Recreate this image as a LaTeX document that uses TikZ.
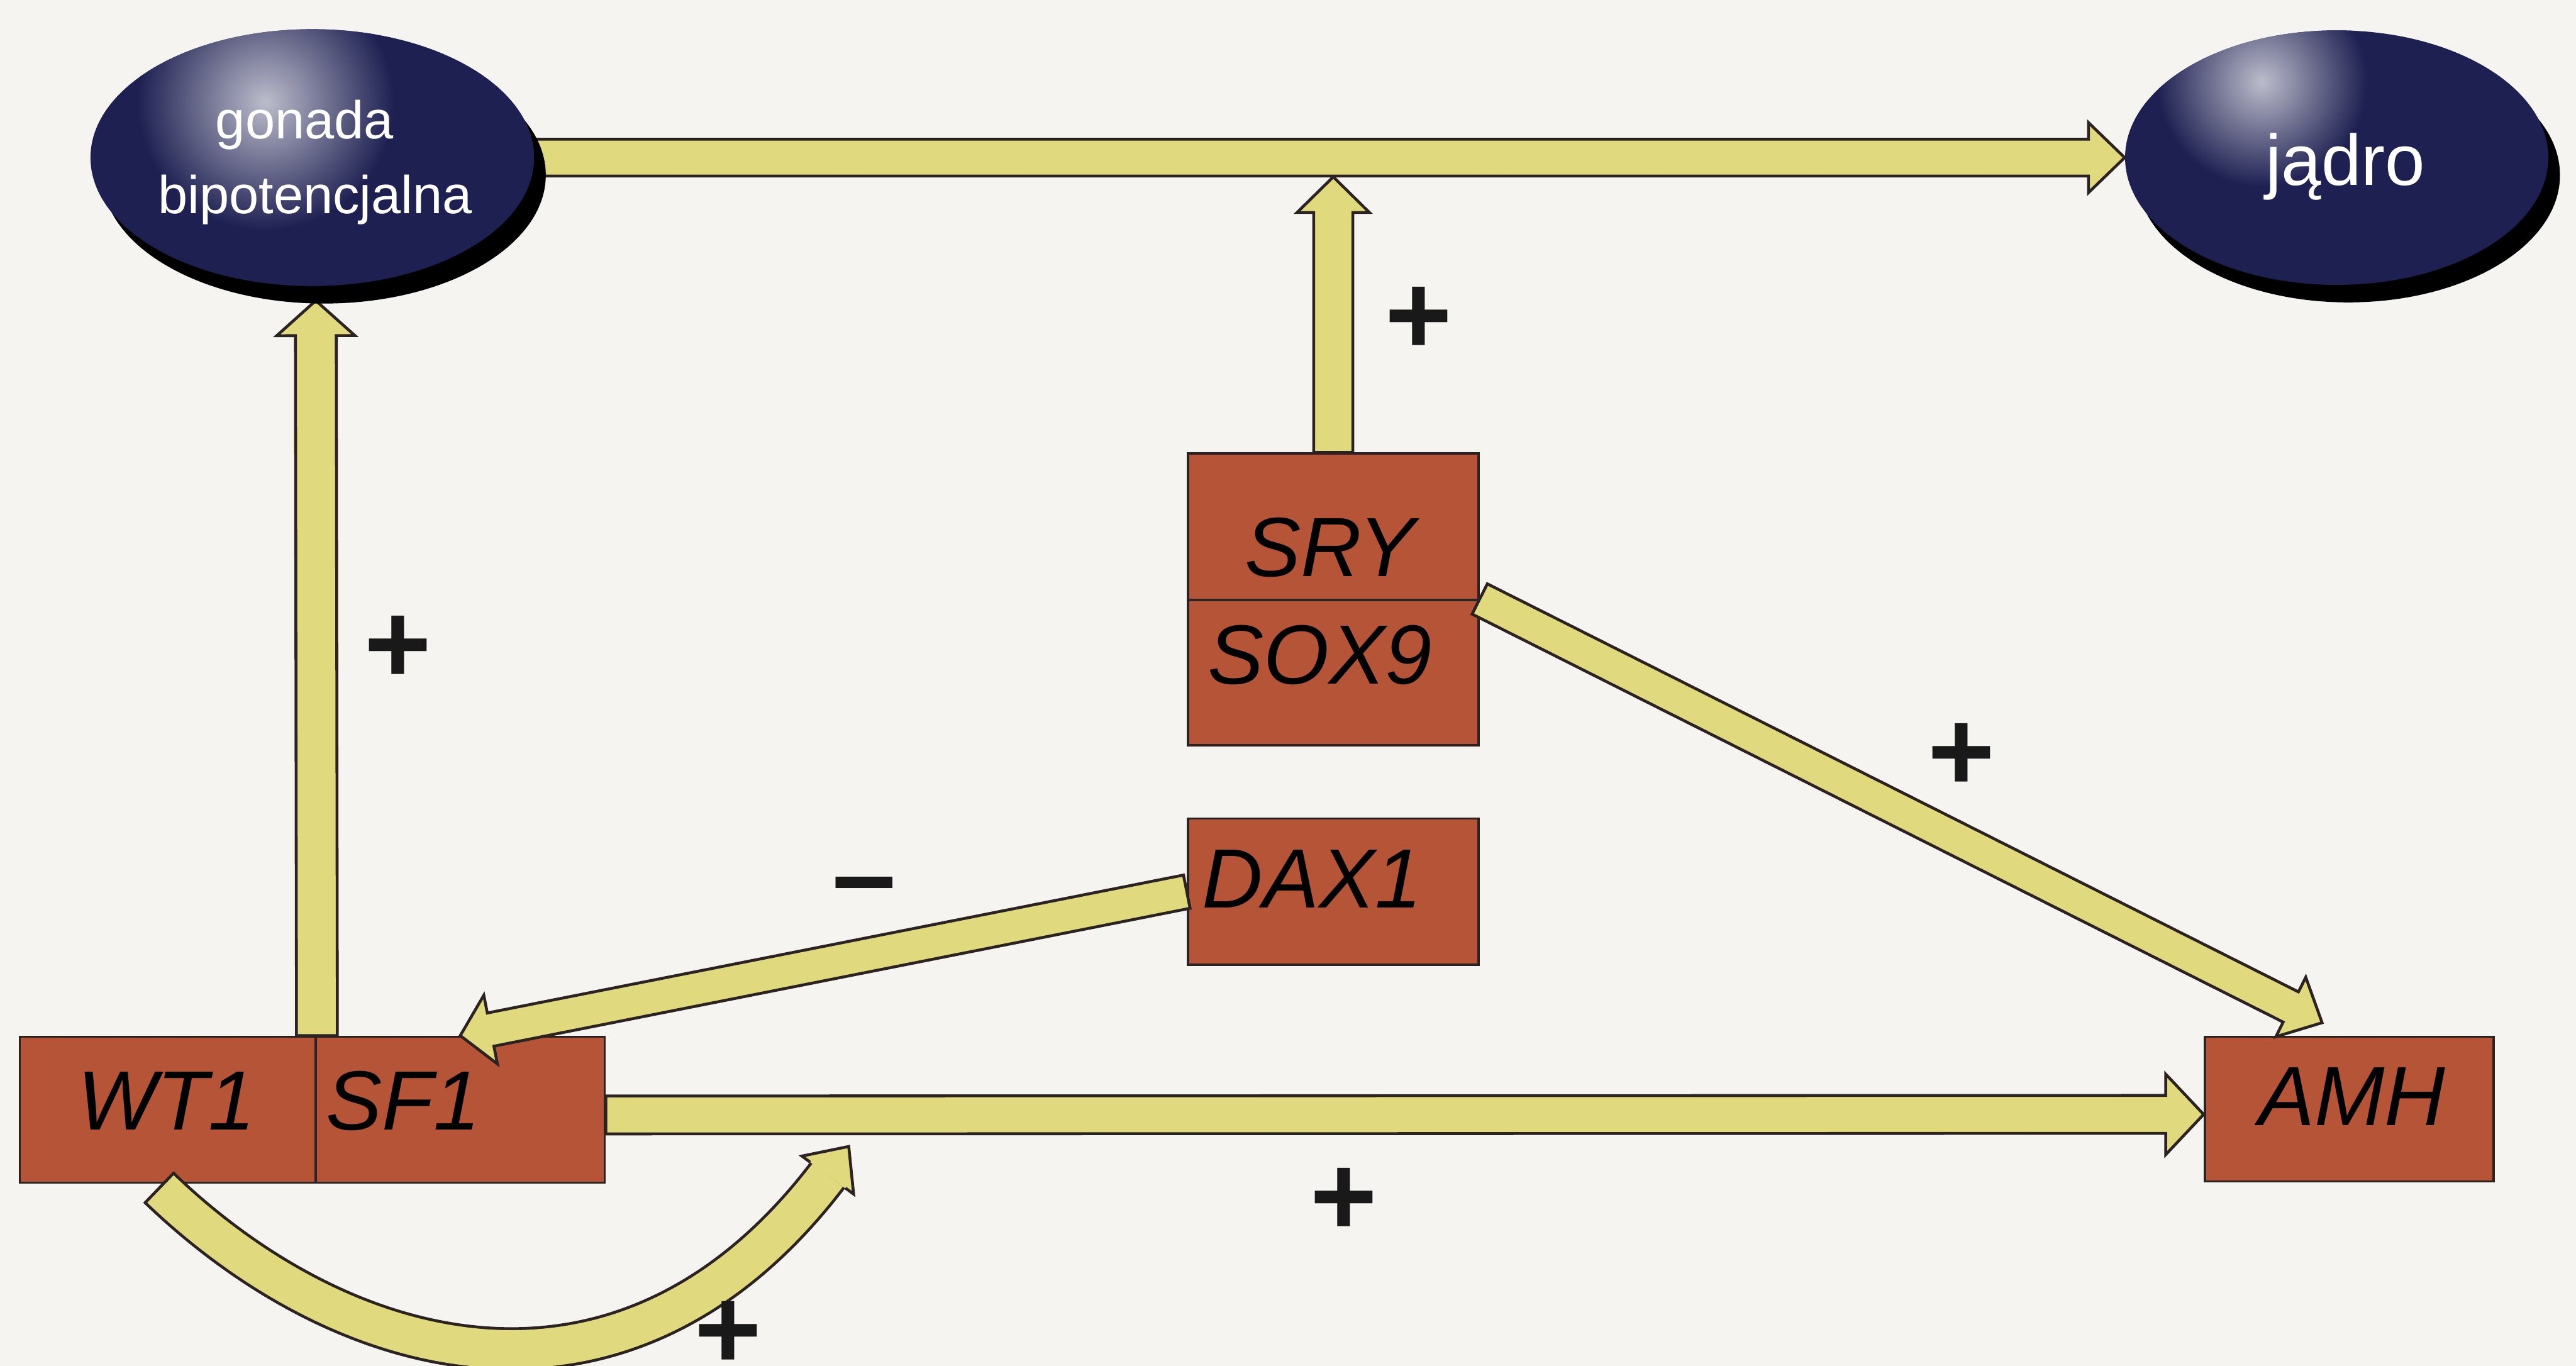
\documentclass[tikz,border=0pt]{standalone}
\usepackage{fontspec}
\setmainfont{Liberation Sans}
\usetikzlibrary{calc,shadows,shapes.geometric}
\definecolor{bgc}{HTML}{F5F4F1}
\definecolor{navyc}{HTML}{1E2052}
\definecolor{boxc}{HTML}{B65437}
\definecolor{arrc}{HTML}{E1D97E}
\definecolor{edgec}{HTML}{2B2222}
\pgfdeclarelayer{paper}
\pgfdeclarelayer{boxes}
\pgfdeclarelayer{arr}
\pgfsetlayers{paper,boxes,arr,main}
\tikzset{
  genebox/.style={draw=edgec, fill=boxc, line width=1.1pt, rectangle, inner sep=0pt},
  orb/.style={ellipse, fill=navyc, inner sep=0pt,
    drop shadow={opacity=1, fill=black, shadow xshift=0.2cm, shadow yshift=-0.3cm}},
  genelabel/.style={font=\fontsize{41}{49}\selectfont\itshape, text=black, inner sep=0pt, anchor=base},
  orblabel/.style={font=\fontsize{26}{31}\selectfont, text=white, inner sep=0pt, anchor=base},
  sign/.style={font=\fontsize{56}{60}\selectfont\bfseries, text=black!90, inner sep=0pt, anchor=base},
  arrowbody/.style={fill=arrc, draw=edgec, line width=1.4pt, line join=miter},
}
% block arrow: #1 start, #2 tip, #3 half shaft width, #4 head length, #5 half head width
\newcommand{\blockarr}[5]{%
  \coordinate (bac) at ($(#2)!#4!(#1)$);
  \filldraw[arrowbody] ($(#1)!#3!90:(#2)$) -- ($(bac)!#3!90:(#2)$) -- ($(bac)!#5!90:(#2)$)
    -- (#2) -- ($(bac)!#5!-90:(#2)$) -- ($(bac)!#3!-90:(#2)$) -- ($(#1)!#3!-90:(#2)$) -- cycle;
}
\begin{document}
\begin{tikzpicture}[x=1cm,y=-1cm]
\useasboundingbox (0,0) rectangle (44.13,23.40);
\clip (0,0) rectangle (44.13,23.40);
\begin{pgfonlayer}{paper}
  \fill[bgc] (0,0) rectangle (44.13,23.40);
\end{pgfonlayer}

% gene boxes
\begin{pgfonlayer}{boxes}
  \node[genebox, minimum width=5.07cm, minimum height=2.50cm] (wt) at (2.875,19.01) {};
  \node[genebox, minimum width=4.95cm, minimum height=2.50cm] (sf) at (7.885,19.01) {};
  \node[genebox, minimum width=4.98cm, minimum height=2.51cm] (sry) at (22.84,9.025) {};
  \node[genebox, minimum width=4.98cm, minimum height=2.49cm] (sox) at (22.84,11.525) {};
  \node[genebox, minimum width=4.98cm, minimum height=2.51cm] (dax) at (22.84,15.275) {};
  \node[genebox, minimum width=4.95cm, minimum height=2.48cm] (amh) at (40.245,19.00) {};
\end{pgfonlayer}

% ellipses
\node[orb, minimum width=7.6cm, minimum height=4.4cm] (gon) at (5.35,2.70) {};
\node[orb, minimum width=7.25cm, minimum height=4.36cm] (jad) at (40.03,2.70) {};
\begin{scope}
  \clip (gon.center) ellipse [x radius=3.8cm, y radius=2.2cm];
  \shade[inner color=navyc!30!white, outer color=navyc] (4.55,1.75) circle (2.2);
\end{scope}
\begin{scope}
  \clip (jad.center) ellipse [x radius=3.625cm, y radius=2.18cm];
  \shade[inner color=navyc!30!white, outer color=navyc] (38.75,1.40) circle (1.8);
\end{scope}
\node[orblabel] (gt1) at (5.22,2.38) {gonada};
\node[orblabel] (gt2) at (5.40,3.66) {bipotencjalna};
\node[orblabel, font=\fontsize{35}{40}\selectfont] (jt) at (40.18,3.17) {jądro};

% free ends
\coordinate (barpt) at (22.84,3.03);
\coordinate (gonbot) at (5.41,5.15);
\coordinate (soxout) at (sox.north east);
\coordinate (amhin) at (39.78,17.52);
\coordinate (sfout) at ($(sf.east)+(0,0.09)$);
\coordinate (amhleft) at ($(amh.west)+(0,0.09)$);
\coordinate (ls) at (2.73,20.35);
\coordinate (lc1) at (5.90,23.40);
\coordinate (lc2) at (10.70,24.70);
\coordinate (le) at (14.18,20.13);
\coordinate (lt) at (14.54,19.64);

% arrows
\begin{pgfonlayer}{arr}
  \blockarr{gon.center}{jad.west}{0.315cm}{0.62cm}{0.60cm}
  \blockarr{sry.north}{barpt}{0.335cm}{0.61cm}{0.62cm}
  \blockarr{wt.north east}{gonbot}{0.35cm}{0.60cm}{0.67cm}
  \blockarr{dax.west}{sf.north}{0.29cm}{0.53cm}{0.60cm}
  \blockarr{soxout}{amhin}{0.29cm}{0.60cm}{0.57cm}
  \blockarr{sfout}{amhleft}{0.325cm}{0.65cm}{0.69cm}
  % self loop WT1 -> SF1
  \draw[edgec, line width=0.75cm] (ls) .. controls (lc1) and (lc2) .. (le);
  \draw[arrc, line width=0.65cm] (ls) .. controls (lc1) and (lc2) .. (le);
  \draw[edgec, line width=1.4pt] ($(ls)!0.375cm!90:(lc1)$) -- ($(ls)!0.375cm!-90:(lc1)$);
  \fill[arrc] ($(le)!0.325cm!90:(lt)$) -- ($(le)!0.55cm!90:(lt)$) -- (lt)
    -- ($(le)!0.55cm!-90:(lt)$) -- ($(le)!0.325cm!-90:(lt)$) -- cycle;
  \draw[edgec, line width=1.4pt, line join=miter] ($(le)!0.375cm!90:(lt)$) -- ($(le)!0.55cm!90:(lt)$) -- (lt)
    -- ($(le)!0.55cm!-90:(lt)$) -- ($(le)!0.375cm!-90:(lt)$);
\end{pgfonlayer}

% gene labels
\node[genelabel] (tsry) at (22.78,9.87) {SRY};
\node[genelabel] (tsox) at (22.61,11.72) {SOX9};
\node[genelabel] (tdax) at (22.48,15.55) {DAX1};
\node[genelabel] (twt) at (2.85,19.35) {WT1};
\node[genelabel] (tsf) at (6.91,19.35) {SF1};
\node[genelabel] (tamh) at (40.29,19.28) {AMH};

% signs
\node[sign] (p1) at (6.82,11.71) {+};
\node[sign] (p2) at (24.30,6.07) {+};
\node[sign] (p3) at (33.60,13.55) {+};
\node[sign] (p4) at (23.02,21.16) {+};
\node[sign] (p5) at (12.47,23.45) {+};
\node[sign] (m1) at (14.81,15.65) {–};
\end{tikzpicture}
\end{document}
